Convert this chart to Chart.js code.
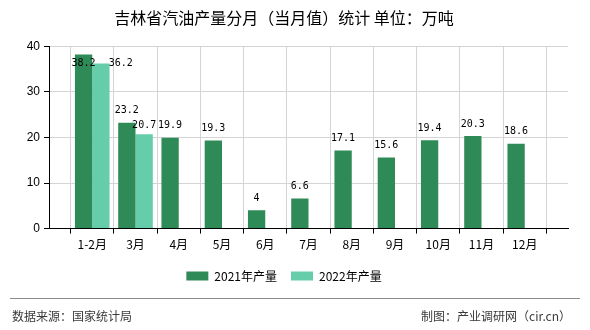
<!DOCTYPE html>
<html>
<head>
<meta charset="utf-8">
<script src="https://cdn.jsdelivr.net/npm/chart.js@4.4.1/dist/chart.umd.min.js"></script>
<style>
  html, body { margin: 0; padding: 0; background: #fff; }
  #wrap { width: 590px; height: 330px; position: relative; }
</style>
</head>
<body>
<div id="wrap"><canvas id="oilChart" width="590" height="330"></canvas></div>
<script>
const months = ['1-2月', '3月', '4月', '5月', '6月', '7月', '8月', '9月', '10月', '11月', '12月'];
const output2021 = [38.2, 23.2, 19.9, 19.3, 4, 6.6, 17.1, 15.6, 19.4, 20.3, 18.6];
const output2022 = [36.2, 20.7];
const yTicks = [0, 10, 20, 30, 40];

const cjk = '"Noto Sans CJK SC", "Microsoft YaHei", sans-serif';

// the axis has an empty slot at each end, labels sit on the ticks
const axisLabels = [''].concat(months, ['']);
function pad(values) {
    const out = [null];
    for (let i = 0; i < months.length; i++) {
        out.push(i < values.length ? values[i] : null);
    }
    out.push(null);
    return out;
}

// value labels above the bars; a clash inside one month pushes the second
// label right, a near-clash between months just lines them up
const valueLabels = {
    id: 'valueLabels',
    afterDatasetsDraw(chart) {
        const ctx = chart.ctx;
        const top = chart.chartArea.top;
        ctx.save();
        ctx.font = '10px "DejaVu Sans Mono", "Liberation Mono", monospace';
        ctx.fillStyle = '#000';
        ctx.textBaseline = 'middle';
        const items = [];
        chart.data.datasets.forEach(function (ds, di) {
            const meta = chart.getDatasetMeta(di);
            meta.data.forEach(function (bar, i) {
                const v = ds.data[i];
                if (v === null || v === undefined) return;
                const text = String(v);
                const w = ctx.measureText(text).width;
                items.push({ idx: i, text: text, x: bar.x - w / 2, w: w, y: Math.max(bar.y - 12, top + 17) });
            });
        });
        items.sort(function (a, b) { return a.x - b.x; });
        for (let i = 1; i < items.length; i++) {
            const a = items[i - 1], b = items[i];
            if (Math.abs(a.y - b.y) >= 10 || a.x + a.w + 4 <= b.x) continue;
            if (a.idx === b.idx && a.x + a.w > b.x) {
                b.x = a.x + a.w + 13;
            } else {
                a.y = b.y = Math.max(a.y, b.y);
            }
        }
        items.forEach(function (it) {
            ctx.fillText(it.text, it.x, it.y);
        });
        ctx.restore();
    }
};

// source line and separator at the foot of the canvas
const footer = {
    id: 'footer',
    afterDraw(chart) {
        const ctx = chart.ctx;
        ctx.save();
        ctx.strokeStyle = '#8c8c8c';
        ctx.lineWidth = 1;
        ctx.beginPath();
        ctx.moveTo(10, 298.5);
        ctx.lineTo(580, 298.5);
        ctx.stroke();
        ctx.font = '12px ' + cjk;
        ctx.fillStyle = '#3a3a3a';
        ctx.textBaseline = 'middle';
        ctx.textAlign = 'left';
        ctx.fillText('数据来源：国家统计局', 12, 316);
        ctx.textAlign = 'right';
        ctx.fillText('制图：产业调研网（cir.cn）', 571, 316);
        ctx.restore();
    }
};

const ctx = document.getElementById('oilChart').getContext('2d');
const oilChart = new Chart(ctx, {
    type: 'bar',
    data: {
        labels: axisLabels,
        datasets: [{
            label: '2021年产量',
            data: pad(output2021),
            backgroundColor: '#2e8b57',
            borderWidth: 0
        }, {
            label: '2022年产量',
            data: pad(output2022),
            backgroundColor: '#66cdaa',
            borderWidth: 0
        }]
    },
    options: {
        responsive: false,
        animation: false,
        layout: { padding: { left: 0, right: 22, top: 0, bottom: 38 } },
        datasets: {
            bar: { categoryPercentage: 0.8, barPercentage: 1 }
        },
        plugins: {
            title: {
                display: true,
                text: '吉林省汽油产量分月（当月值）统计 单位：万吨',
                color: '#000',
                font: { family: cjk, size: 16, weight: 'normal' },
                padding: { top: 8, bottom: 19 }
            },
            legend: {
                position: 'bottom',
                labels: {
                    boxWidth: 22,
                    boxHeight: 9,
                    padding: 14,
                    color: '#000',
                    font: { family: cjk, size: 12 }
                }
            },
            tooltip: { enabled: false }
        },
        scales: {
            x: {
                offset: false,
                grid: { color: '#d4d4d4', tickColor: '#000', tickLength: 5 },
                border: { color: '#000' },
                ticks: {
                    color: '#000',
                    autoSkip: false,
                    maxRotation: 0,
                    padding: 4,
                    font: { family: cjk, size: 12 }
                }
            },
            y: {
                min: yTicks[0],
                max: yTicks[yTicks.length - 1],
                afterBuildTicks(scale) {
                    scale.ticks = yTicks.map(function (v) { return { value: v }; });
                },
                afterFit(scale) { scale.width = 49; },
                grid: { color: '#d4d4d4', tickColor: '#000', tickLength: 5 },
                border: { color: '#000' },
                ticks: {
                    color: '#000',
                    padding: 4,
                    font: { family: '"Liberation Sans", Arial, sans-serif', size: 12 }
                }
            }
        }
    },
    plugins: [valueLabels, footer]
});
</script>
</body>
</html>
